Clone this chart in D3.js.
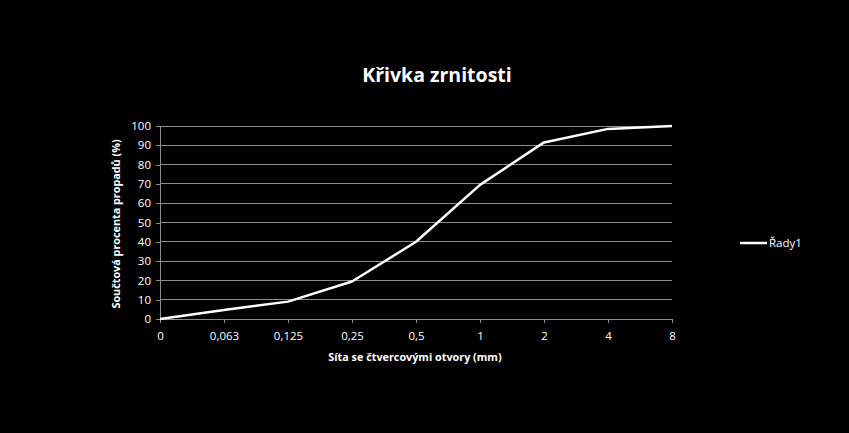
<!DOCTYPE html>
<html><head><meta charset="utf-8">
<script src="https://cdn.jsdelivr.net/npm/d3@7"></script>
<style>html,body{margin:0;padding:0;background:#000;} svg{display:block;}</style>
</head><body>
<svg id="c" width="849" height="433"></svg>
<script>
const categories = ["0","0,063","0,125","0,25","0,5","1","2","4","8"];
const values = [0, 4.7, 9, 19.4, 40, 69.5, 91.5, 98.5, 100];
const yTicks = [0,10,20,30,40,50,60,70,80,90,100];
const seriesName = "Řady1";
const title = "Křivka zrnitosti";
const xTitle = "Síta se čtvercovými otvory (mm)";
const yTitle = "Součtová procenta propadů (%)";

const svg = d3.select("#c");
const font = "'Open Sans', 'Noto Sans', sans-serif";
const m = {l:160, r:672, t:126, b:319};
const x = d3.scalePoint().domain(categories).range([m.l, m.r]);
const y = d3.scaleLinear().domain([0,100]).range([m.b, m.t]);

svg.append("rect").attr("width",849).attr("height",433).attr("fill","#000");

// grid
svg.append("g").selectAll("line").data(yTicks.filter(d=>d>0)).join("line")
  .attr("x1",m.l).attr("x2",m.r).attr("y1",d=>y(d)).attr("y2",d=>y(d))
  .attr("stroke","#8c8c8c").attr("stroke-width",1).attr("shape-rendering","crispEdges");

// y axis
const ya = svg.append("g").attr("transform",`translate(${m.l},0)`)
  .call(d3.axisLeft(y).tickValues(yTicks).tickSize(4).tickPadding(5));
ya.select(".domain").attr("stroke","#8c8c8c");
ya.selectAll(".tick line").attr("stroke","#8c8c8c");
ya.selectAll("text").attr("fill","#fff").attr("font-family",font).attr("font-size",11.5);

// x axis
const xa = svg.append("g").attr("transform",`translate(0,${m.b})`)
  .call(d3.axisBottom(x).tickSize(4).tickPadding(9));
xa.select(".domain").attr("stroke","#8c8c8c");
xa.selectAll(".tick line").attr("stroke","#8c8c8c");
xa.selectAll("text").attr("fill","#fff").attr("font-family",font).attr("font-size",11.5);
svg.selectAll(".domain, .tick line").attr("shape-rendering","crispEdges");

// line
svg.append("path").datum(values)
  .attr("d", d3.line().x((d,i)=>x(categories[i])).y(d=>y(d)))
  .attr("fill","none").attr("stroke","#fff").attr("stroke-width",2.5).attr("stroke-linejoin","round");

// titles
svg.append("text").attr("x",437).attr("y",82).attr("text-anchor","middle")
  .attr("fill","#fff").attr("font-family",font).attr("font-weight","bold").attr("font-size",19.5)
  .text(title);
svg.append("text").attr("x",415).attr("y",361).attr("text-anchor","middle")
  .attr("fill","#fff").attr("font-family",font).attr("font-weight","bold").attr("font-size",10.8)
  .text(xTitle);
svg.append("text").attr("transform","translate(120,224) rotate(-90)").attr("text-anchor","middle")
  .attr("fill","#fff").attr("font-family",font).attr("font-weight","bold").attr("font-size",10.8)
  .text(yTitle);

// legend
svg.append("line").attr("x1",740).attr("x2",767).attr("y1",243).attr("y2",243)
  .attr("stroke","#fff").attr("stroke-width",2.5);
svg.append("text").attr("x",769).attr("y",247).attr("fill","#fff")
  .attr("font-family",font).attr("font-size",11.5).text(seriesName);
</script>
</body></html>
